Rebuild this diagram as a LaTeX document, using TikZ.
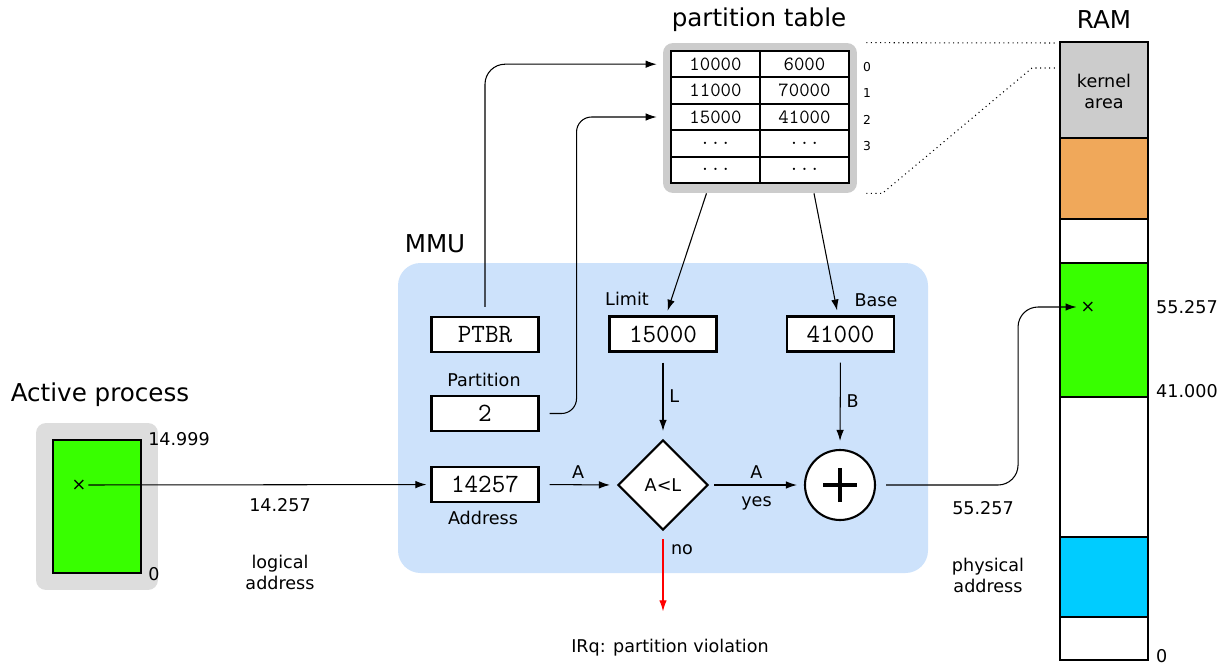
\documentclass[tikz,border=0pt]{standalone}
\usepackage{fontspec}
\setmainfont{DejaVu Sans}
\usetikzlibrary{positioning,shapes.geometric,arrows.meta}
\definecolor{mmublue}{RGB}{205,226,251}
\definecolor{procgray}{RGB}{221,221,221}
\definecolor{tabgray}{RGB}{204,204,204}
\definecolor{pgreen}{RGB}{56,255,0}
\definecolor{ramorange}{RGB}{240,168,90}
\definecolor{ramcyan}{RGB}{0,204,255}
\tikzset{reg/.style={draw,line width=1.2pt,fill=white,minimum width=2.14cm,minimum height=0.7cm,inner sep=0pt,font=\ttfamily\fontsize{15}{17}\selectfont},
	cell/.style={draw,line width=1.2pt,fill=white,minimum width=1.78cm,minimum height=0.528cm,inner sep=0pt,font=\ttfamily\fontsize{11.5}{13}\selectfont},
	lbl/.style={font=\fontsize{10}{12}\selectfont,align=center},
	idx/.style={font=\fontsize{7}{8}\selectfont},
	big/.style={font=\fontsize{14}{16}\selectfont},
	arr/.style={-{Latex[length=2.2mm,width=1.5mm]},line width=0.6pt}}

\begin{document}
\begin{tikzpicture}[x=0.02cm,y=-0.02cm]
	\useasboundingbox (0,0) rectangle (1228,666);
	\def\tdots{...}
	% MMU area
	\fill[mmublue,rounded corners=0.45cm] (398,263) rectangle (928,573);
	\node[big] at (435,244) {MMU};
	% active process
	\node[big] at (100,395) {Active process};
	\node[fill=procgray,rounded corners=0.2cm,minimum width=2.44cm,minimum height=3.34cm] (proc) at (97,506.5) {};
	\node[draw,fill=pgreen,line width=1.2pt,minimum width=1.76cm,minimum height=2.66cm] (pgrn) at (97,506.5) {};
	\node[lbl,anchor=west] at (pgrn.north east) {14.999};
	\node[lbl,anchor=west] at (pgrn.south east) {0};
	\node[lbl,inner sep=1pt] (pmark) at (79,485) {×};
	\node[lbl] at (280,505) {14.257};
	\node[lbl] at (280,572) {logical\\address};
	% partition table
	\node[big] at (759,20) {partition table};
	\node[fill=tabgray,rounded corners=0.2cm,minimum width=3.88cm,minimum height=3cm] (ptab) at (760,118) {};
	\foreach \lim/\bas [count=\r from 0] in {10000/6000,11000/70000,15000/41000,\tdots/\tdots,\tdots/\tdots}{
		\node[cell] (t\r a) at (715.5,{64.2+26.4*\r}) {\lim};
		\node[cell] (t\r b) at (804.5,{64.2+26.4*\r}) {\bas};
	}
	\foreach \r in {0,...,3}
		\node[idx] at (867,{67+26.4*\r}) {\r};
	% registers
	\node[reg] (ptbr) at (485,334.5) {PTBR};
	\node[reg] (part) at (485,413.5) {2};
	\node[lbl] at (484,380) {Partition};
	\node[reg] (addr) at (485,484.5) {14257};
	\node[lbl] at (483,518) {Address};
	\node[reg] (lim) at (663,334) {15000};
	\node[lbl] at (627,299) {Limit};
	\node[reg] (bas) at (840.5,334) {41000};
	\node[lbl] at (876,300) {Base};
	\node[draw,diamond,aspect=1,line width=1.2pt,fill=white,minimum size=1.8cm,inner sep=0pt,lbl] (cmp) at (663,485) {A<L};
	\node[draw,circle,line width=1.2pt,fill=white,minimum size=1.4cm] (sum) at (840,485) {};
	\draw[line width=1.8pt] ([xshift=-0.34cm]sum.center) -- ([xshift=0.34cm]sum.center);
	\draw[line width=1.8pt] ([yshift=-0.34cm]sum.center) -- ([yshift=0.34cm]sum.center);
	\node[lbl] (irq) at (670,648) {IRq: partition violation};
	\node[lbl] at (682,550) {no};
	% connectors
	\draw[arr,shorten >=0.08cm] (pmark) -- (addr);
	\draw[arr,shorten <=0.2cm,shorten >=0.14cm] (addr.east) -- node[lbl,above] {A} (cmp.west);
	\draw[arr,shorten <=0.1cm,shorten >=0.14cm] (cmp.east) -- node[lbl,above] {A} node[lbl,below=3pt] {yes} (sum.west);
	\draw[arr,shorten <=0.2cm,shorten >=0.16cm] (lim.south) -- node[lbl,right] {L} (cmp.north);
	\draw[arr,shorten <=0.2cm,shorten >=0.16cm] (bas.south) -- node[lbl,right] {B} (sum.north);
	\draw[arr,red,shorten <=0.16cm,shorten >=0.44cm] (cmp.south) -- (cmp.south |- irq.north);
	\draw[arr,rounded corners=0.4cm,shorten <=0.18cm,shorten >=0.12cm] (ptbr.north) |- (ptab.west |- t0a);
	\draw[arr,rounded corners=0.3cm,shorten <=0.2cm,shorten >=0.12cm] (part.east) -- ++(37,0) |- (ptab.west |- t2a);
	\draw[arr,shorten >=0.1cm] ([xshift=-0.18cm]ptab.south -| t0a) -- ([xshift=0.06cm]lim.north);
	\draw[arr,shorten >=0.1cm] ([xshift=0.19cm]ptab.south -| t0b) -- ([xshift=-0.05cm]bas.north);
	% RAM
	\node[big] at (1104,20) {RAM};
	\foreach \top/\bot/\col in {42/138/tabgray,138/219/ramorange,219/263/white,263/397/pgreen,397/537/white,537/617/ramcyan,617/660/white}
		\draw[line width=1.2pt,fill=\col] (1060,\top) rectangle (1148,\bot);
	\node[lbl] at (1104,91) {kernel\\area};
	\node[lbl,inner sep=1pt] (rmark) at (1088,307) {×};
	\node[lbl,anchor=west] at (1150,307) {55.257};
	\node[lbl,anchor=west] at (1150,391) {41.000};
	\node[lbl,anchor=west] at (1150,656) {0};
	\draw[arr,rounded corners=0.4cm,shorten <=0.2cm,shorten >=0.04cm] (sum.east) -- ++(142,0) |- (rmark.west);
	\node[lbl] at (983,508) {55.257};
	\node[lbl] at (988,575) {physical\\address};
	% dotted links table -> kernel area
	\coordinate (ramtl) at (1058,43);
	\coordinate (kbend) at (1032,68);
	\coordinate (kend) at (1058,68);
	\draw[dotted,line width=0.6pt,shorten <=0.18cm] (ptab.north east) -- (ramtl);
	\draw[dotted,line width=0.6pt] ([xshift=0.18cm]ptab.south east) -- ++(16,0) -- (kbend) -- (kend);
\end{tikzpicture}
\end{document}
